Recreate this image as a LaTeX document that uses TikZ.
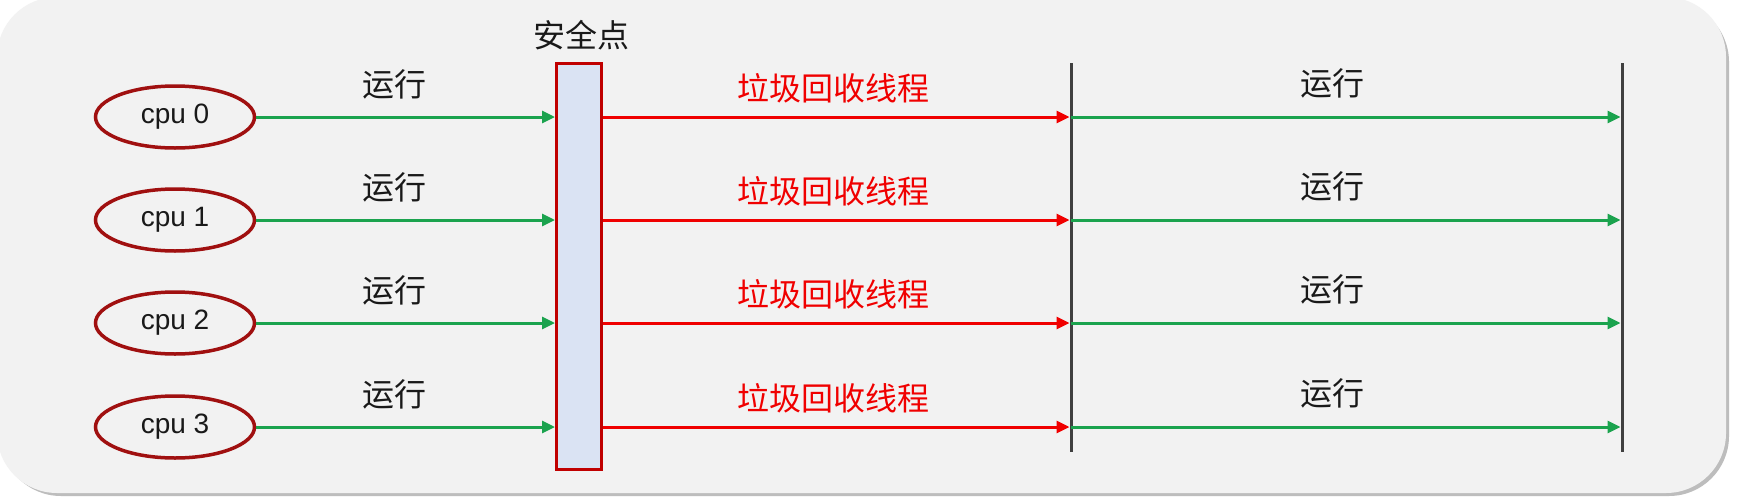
\documentclass[tikz,border=0pt]{standalone}
\usepackage{fontspec}
\setmainfont{Liberation Sans}
\newfontfamily\cjk{Noto Sans CJK SC}
\usetikzlibrary{arrows.meta,shapes.geometric}
\definecolor{panel}{HTML}{F2F2F2}
\definecolor{shadowc}{HTML}{BDBDBD}
\definecolor{cpured}{HTML}{A01010}
\definecolor{boxred}{HTML}{C00000}
\definecolor{boxfill}{HTML}{DAE3F3}
\definecolor{runGreen}{HTML}{1BA34E}
\definecolor{gcred}{HTML}{F00000}
\definecolor{linegray}{HTML}{404040}
\begin{document}
\begin{tikzpicture}[x=1pt,y=-1pt,
  cpu/.style={ellipse, draw=cpured, line width=3.5pt, minimum width=159pt, minimum height=62pt, inner sep=0pt, font=\fontsize{28}{30}\selectfont, text=black!90},
  safebox/.style={rectangle, draw=boxred, fill=boxfill, line width=3pt, minimum width=45pt, minimum height=406pt, inner sep=0pt},
  run/.style={draw=runGreen, line width=3pt, -{Triangle[length=13pt,width=12pt]}},
  gc/.style={draw=gcred, line width=3pt, -{Triangle[length=13pt,width=12pt]}},
  bar/.style={draw=linegray, line width=3pt},
  runlab/.style={font=\cjk\fontsize{32}{34}\selectfont, text=black!90, inner sep=0pt},
  gclab/.style={font=\cjk\fontsize{32}{34}\selectfont, text=gcred, inner sep=0pt}
]
\useasboundingbox (0,0) rectangle (1738,498);
\fill[white] (0,0) rectangle (1738,498);
\fill[shadowc, rounded corners=60pt] (1,2) rectangle (1729,496);
\fill[panel, rounded corners=60pt] (-3,-3) rectangle (1726,493);

\node[safebox] (safe) at (579,266.5) {};
\node[runlab] (sp) at (581,35) {安全点};

\coordinate (l1t) at (1071,63);
\coordinate (l1b) at (1071,452);
\coordinate (l2t) at (1622,63);
\coordinate (l2b) at (1622,452);
\draw[bar] (l1t) -- (l1b);
\draw[bar] (l2t) -- (l2b);

\foreach \i/\y in {0/117,1/220,2/323,3/427}{
  \node[cpu] (c\i) at (175,\y) {cpu \i};
  \coordinate (m\i) at (1071,\y);
  \coordinate (e\i) at (1622,\y);
  \draw[run] (c\i) -- (safe.west |- c\i);
  \draw[gc, shorten >=1.5pt] (safe.east |- c\i) -- (m\i);
  \draw[run, shorten >=1.5pt] (m\i) -- (e\i);
  \node[runlab] (ra\i) at (394,{\y-33}) {运行};
  \node[gclab] (g\i) at (833,{\y-29}) {垃圾回收线程};
  \node[runlab] (rb\i) at (1332,{\y-34}) {运行};
}
\end{tikzpicture}
\end{document}
